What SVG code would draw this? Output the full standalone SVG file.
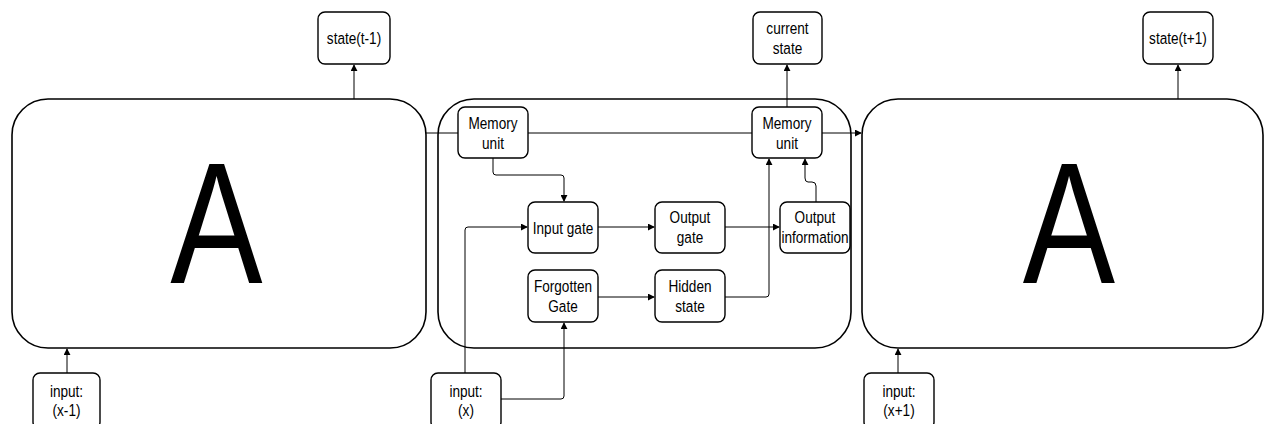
<svg xmlns="http://www.w3.org/2000/svg" width="1265" height="424" viewBox="0 0 1265 424">
<style>
.big{fill:#fff;stroke:#000;stroke-width:1.6}
.n{fill:#fff;stroke:#000;stroke-width:1.4}
.t{font-family:"Liberation Sans",Arial,sans-serif;font-size:17px;fill:#000;text-anchor:middle}
.A{font-family:"Liberation Sans",Arial,sans-serif;font-size:173px;fill:#000;text-anchor:middle}
.c{fill:none;stroke:#000;stroke-width:1}
</style>
<defs>
<marker id="ar" viewBox="0 0 8 8" refX="7" refY="4" markerWidth="7" markerHeight="7" markerUnits="userSpaceOnUse" orient="auto">
<path d="M0,0 L8,4 L0,8 z" fill="#000"/>
</marker>
</defs>
<rect width="1265" height="424" fill="#fff"/>
<g id="cellLeft">
<rect class="big" x="12" y="99" width="414" height="249" rx="36"/>
<text class="A" transform="translate(216.5 0) scale(0.8 1)" x="0" y="283">A</text>
</g>
<g id="cellMiddle">
<rect class="big" x="438" y="99" width="413" height="249" rx="36"/>
</g>
<g id="cellRight">
<rect class="big" x="862" y="99" width="401" height="249" rx="36"/>
<text class="A" transform="translate(1069 0) scale(0.8 1)" x="0" y="283">A</text>
</g>
<g id="connectors">
<path class="c" d="M354,99 V65" marker-end="url(#ar)"/>
<path class="c" d="M787,107 V65" marker-end="url(#ar)"/>
<path class="c" d="M1178,99 V65" marker-end="url(#ar)"/>
<path class="c" d="M67,373 V349" marker-end="url(#ar)"/>
<path class="c" d="M898,373 V349" marker-end="url(#ar)"/>
<path class="c" d="M426,133 H458"/>
<path class="c" d="M528,133 H752"/>
<path class="c" d="M822,133 H861" marker-end="url(#ar)"/>
<path class="c" d="M493,158 V172 Q493,175 496,175 H561 Q564,175 564,178 V201" marker-end="url(#ar)"/>
<path class="c" d="M465,373 V230 Q465,227 468,227 H527" marker-end="url(#ar)"/>
<path class="c" d="M501,399 H561 Q564,399 564,396 V323" marker-end="url(#ar)"/>
<path class="c" d="M598,227 H654" marker-end="url(#ar)"/>
<path class="c" d="M725,227 H779" marker-end="url(#ar)"/>
<path class="c" d="M598,297 H654" marker-end="url(#ar)"/>
<path class="c" d="M725,297 H766 Q769,297 769,294 V159" marker-end="url(#ar)"/>
<path class="c" d="M816,202 V186 Q816,182 812,182 H808 Q805,182 805,178 V159" marker-end="url(#ar)"/>
</g>
<g id="statePrev"><rect class="n" x="318" y="12" width="72" height="52" rx="7"/><text class="t" transform="translate(354 0) scale(0.8 1)" x="0" y="44">state(t-1)</text></g>
<g id="stateCur"><rect class="n" x="753" y="12" width="69" height="52" rx="7"/><text class="t" transform="translate(787.5 0) scale(0.8 1)" x="0" y="34">current</text><text class="t" transform="translate(787.5 0) scale(0.8 1)" x="0" y="54">state</text></g>
<g id="stateNext"><rect class="n" x="1143" y="12" width="70" height="52" rx="7"/><text class="t" transform="translate(1178 0) scale(0.8 1)" x="0" y="44">state(t+1)</text></g>
<g id="inputPrev"><rect class="n" x="33" y="373" width="67" height="56" rx="7"/><text class="t" transform="translate(66.5 0) scale(0.8 1)" x="0" y="397">input:</text><text class="t" transform="translate(66.5 0) scale(0.8 1)" x="0" y="416">(x-1)</text></g>
<g id="inputCur"><rect class="n" x="431" y="373" width="70" height="56" rx="7"/><text class="t" transform="translate(466 0) scale(0.8 1)" x="0" y="397">input:</text><text class="t" transform="translate(466 0) scale(0.8 1)" x="0" y="416">(x)</text></g>
<g id="inputNext"><rect class="n" x="864" y="373" width="70" height="56" rx="7"/><text class="t" transform="translate(899 0) scale(0.8 1)" x="0" y="397">input:</text><text class="t" transform="translate(899 0) scale(0.8 1)" x="0" y="416">(x+1)</text></g>
<g id="memLeft"><rect class="n" x="458" y="107" width="70" height="51" rx="7"/><text class="t" transform="translate(493 0) scale(0.8 1)" x="0" y="129">Memory</text><text class="t" transform="translate(493 0) scale(0.8 1)" x="0" y="149">unit</text></g>
<g id="memRight"><rect class="n" x="752" y="107" width="70" height="51" rx="7"/><text class="t" transform="translate(787 0) scale(0.8 1)" x="0" y="129">Memory</text><text class="t" transform="translate(787 0) scale(0.8 1)" x="0" y="149">unit</text></g>
<g id="inputGate"><rect class="n" x="528" y="202" width="70" height="51" rx="7"/><text class="t" transform="translate(563 0) scale(0.8 1)" x="0" y="234">Input gate</text></g>
<g id="outputGate"><rect class="n" x="655" y="202" width="70" height="51" rx="7"/><text class="t" transform="translate(690 0) scale(0.8 1)" x="0" y="223">Output</text><text class="t" transform="translate(690 0) scale(0.8 1)" x="0" y="243">gate</text></g>
<g id="outputInfo"><rect class="n" x="780" y="202" width="70" height="51" rx="7"/><text class="t" transform="translate(815 0) scale(0.8 1)" x="0" y="223">Output</text><text class="t" transform="translate(815 0) scale(0.8 1)" x="0" y="243">information</text></g>
<g id="forgetGate"><rect class="n" x="528" y="270" width="70" height="52" rx="7"/><text class="t" transform="translate(563 0) scale(0.8 1)" x="0" y="292">Forgotten</text><text class="t" transform="translate(563 0) scale(0.8 1)" x="0" y="312">Gate</text></g>
<g id="hiddenState"><rect class="n" x="655" y="270" width="70" height="52" rx="7"/><text class="t" transform="translate(690 0) scale(0.8 1)" x="0" y="292">Hidden</text><text class="t" transform="translate(690 0) scale(0.8 1)" x="0" y="312">state</text></g>
</svg>
